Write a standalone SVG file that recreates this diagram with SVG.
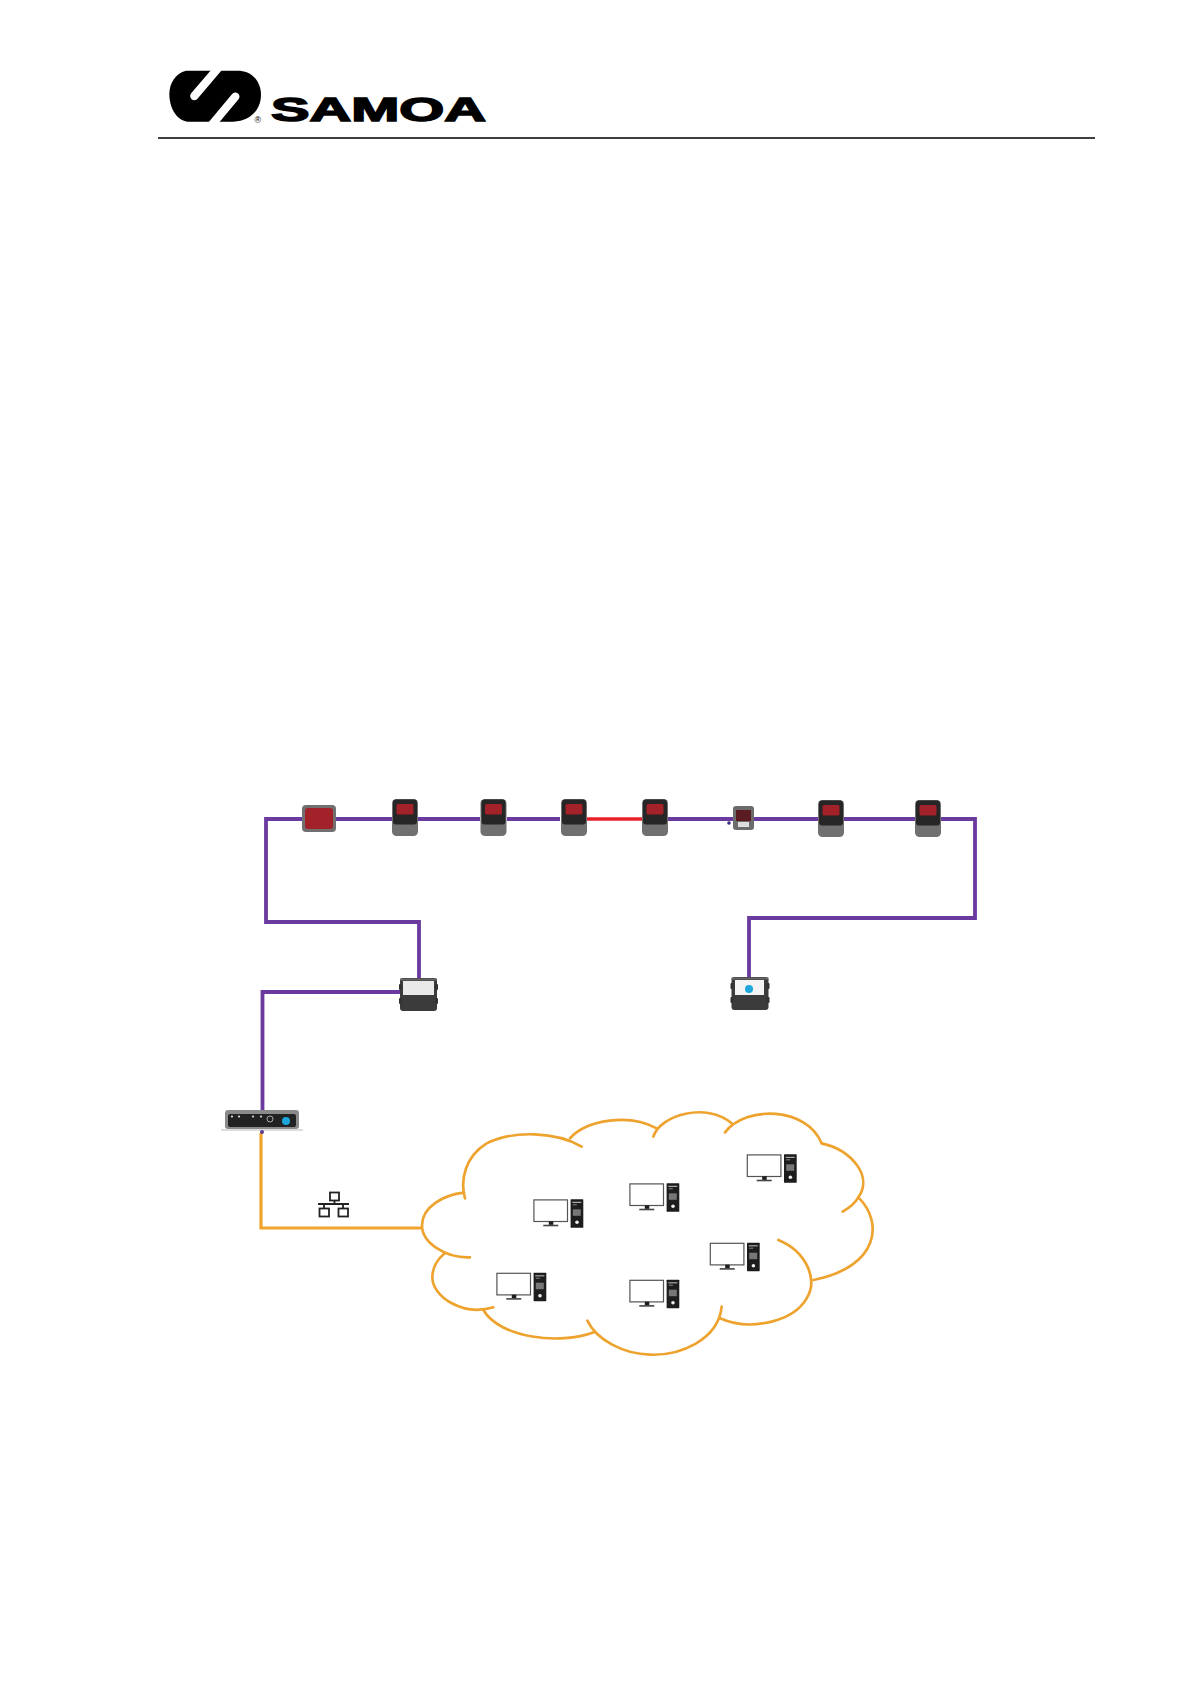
<svg xmlns="http://www.w3.org/2000/svg" width="1190" height="1684" viewBox="0 0 1190 1684">
<style>
.wire{fill:none;stroke-linejoin:miter;stroke-linecap:butt}
.purple{stroke:#6a3a9f;stroke-width:3.8}
.red{stroke:#e8202a;stroke-width:3.6}
.orange{stroke:#f0a42c;stroke-width:3.2}
.cloud{fill:none;stroke:#eda32e;stroke-width:8;stroke-linecap:round}
.net{fill:#fff;stroke:#222;stroke-width:1.8}
.mon{fill:#fff;stroke:#555;stroke-width:1.2}
.dk{fill:#1d1d1d}
.logo{font-family:"Liberation Sans",Arial,sans-serif;font-weight:700;fill:#000;stroke:#000;stroke-width:1.5}
</style>
<defs>
<filter id="soft" x="-20%" y="-20%" width="140%" height="140%"><feGaussianBlur stdDeviation="0.6"/></filter>
<g id="meter">
<rect x="0" y="0" width="26" height="37" rx="4.500" fill="#6f6f6f"/>
<rect x="1" y="0.5" width="24" height="25" rx="3" fill="#252525"/>
<rect x="4.500" y="5" width="17" height="10.500" rx="1.500" fill="#a3202c"/>
</g>
<g id="panel">
<rect x="0" y="0" width="37" height="33" rx="3" fill="#3a3a3a"/>
<rect x="0" y="0.5" width="37" height="2" fill="#666"/>
<rect x="-1" y="6" width="3" height="6" rx="1" fill="#333"/>
<rect x="35" y="6" width="3" height="6" rx="1" fill="#333"/>
<rect x="-1" y="20" width="3" height="6" rx="1" fill="#333"/>
<rect x="35" y="20" width="3" height="6" rx="1" fill="#333"/>
</g>
<g id="pc">
<rect class="mon" x="0.6" y="0.6" width="33.6" height="21.6"/>
<rect class="dk" x="15.500" y="22" width="4.500" height="3.600"/>
<rect x="10" y="25.400" width="15" height="1.600" fill="#444"/>
<rect class="dk" x="37.300" y="0" width="12.700" height="28.500" rx="0.6"/>
<rect x="39" y="2.500" width="9" height="1.200" fill="#aaa"/>
<rect x="39.500" y="5" width="4" height="1" fill="#888"/>
<rect x="39.500" y="10" width="8" height="6.500" fill="#777"/>
<circle cx="43.700" cy="23" r="1.800" fill="#eee"/>
</g>
</defs>

<g id="header">
<g id="logo-mark" transform="translate(150 50) scale(.33333)">
<path fill="#000" d="M108 62H270C312 66 333 100 333 134C333 178 300 215 250 215H112C78 210 58 172 58 132C58 100 76 70 108 62Z"/>
<path d="M203 56L133 138" fill="none" stroke="#fff" stroke-width="25" stroke-linecap="round"/>
<path d="M184 226L256 140" fill="none" stroke="#fff" stroke-width="25" stroke-linecap="round"/>
</g>
<text class="logo" x="271" y="120.500" font-size="33" textLength="215" lengthAdjust="spacingAndGlyphs">SAMOA</text>
<text x="254.500" y="123" font-family="Liberation Sans, Arial, sans-serif" font-size="9" fill="#000">®</text>
<line x1="158" y1="138" x2="1095" y2="138" stroke="#000" stroke-width="1.600"/>
</g>

<g id="connectors">
<path class="wire purple" d="M302 819H266V922H419V980"/>
<path class="wire purple" d="M336 819H392M418 819H480M507 819H560"/>
<path class="wire red" d="M587 819H643"/>
<path class="wire purple" d="M668 819H733M754 819H818M844 819H915M941 819H975V918H749V980"/>
<path class="wire purple" d="M400 992H262.500V1112"/>
<path class="wire orange" d="M261 1133V1228H421"/>
</g>

<g id="node-display" filter="url(#soft)">
<rect x="302" y="805" width="34" height="27" rx="4" fill="#6f6f6f"/>
<rect x="305" y="808" width="28" height="21" rx="3" fill="#a3202c"/>
</g>
<g id="node-meter-1" filter="url(#soft)"><use href="#meter" x="392" y="799"/></g>
<g id="node-meter-2" filter="url(#soft)"><use href="#meter" x="480.500" y="799"/></g>
<g id="node-meter-3" filter="url(#soft)"><use href="#meter" x="561" y="799"/></g>
<g id="node-meter-4" filter="url(#soft)"><use href="#meter" x="642" y="799"/></g>
<g id="node-small" filter="url(#soft)">
<rect x="733" y="806" width="21" height="24" rx="3" fill="#6c6c6c"/>
<rect x="736" y="810" width="15" height="11" fill="#5a1a24"/>
<rect x="738" y="822" width="11" height="5" fill="#ddd"/>
<circle cx="729" cy="823" r="1.800" fill="#3b2a80"/>
</g>
<g id="node-meter-5" filter="url(#soft)"><use href="#meter" x="818" y="800"/></g>
<g id="node-meter-6" filter="url(#soft)"><use href="#meter" x="915" y="800"/></g>

<g id="node-panel-left" filter="url(#soft)">
<use href="#panel" x="400" y="978"/>
<rect x="403" y="981" width="31" height="14" fill="#e9e9e9"/>
</g>
<g id="node-panel-right" filter="url(#soft)">
<use href="#panel" x="731.500" y="977"/>
<rect x="735" y="980" width="29" height="15" fill="#f4f4f4"/>
<circle cx="749" cy="989" r="4" fill="#1ba6dc"/>
</g>

<g id="node-gateway" filter="url(#soft)">
<rect x="225" y="1110" width="74" height="19" rx="3" fill="#8a8a8a"/>
<rect x="228" y="1114" width="68" height="13" rx="2" fill="#222"/>
<line x1="221" y1="1130" x2="303" y2="1130" stroke="#bbb" stroke-width="1"/>
<g fill="#ddd"><circle cx="232" cy="1116.500" r="1.100"/><circle cx="239" cy="1116.500" r="1.100"/><circle cx="253" cy="1116.500" r="1.100"/><circle cx="261" cy="1116.500" r="1.100"/></g>
<circle cx="270" cy="1119" r="3" fill="none" stroke="#aaa" stroke-width="1"/>
<circle cx="286" cy="1121" r="4" fill="#1ba6dc"/>
<circle cx="262" cy="1132" r="2" fill="#5a3a90"/>
</g>

<g id="node-network-icon">
<rect class="net" x="330" y="1192.500" width="9" height="8"/>
<path class="net" d="M334.500 1200.500V1204M318 1204H349M324 1204V1208M343 1204V1208"/>
<rect class="net" x="319.500" y="1208.500" width="9.500" height="8"/>
<rect class="net" x="338.500" y="1208.500" width="9.500" height="8"/>
</g>

<g id="node-cloud" transform="translate(410 1100) scale(.33333)">
<path class="cloud" d="M165 295C150 240 165 170 230 130C310 90 440 95 515 140"/>
<path class="cloud" d="M480 115C530 58 660 40 740 85"/>
<path class="cloud" d="M730 110C750 45 890 5 965 70"/>
<path class="cloud" d="M945 97C1010 15 1190 20 1235 130"/>
<path class="cloud" d="M1235 130C1325 150 1390 230 1345 292"/>
<path class="cloud" d="M1298 335C1315 325 1335 310 1345 292C1420 365 1410 500 1210 540"/>
<path class="cloud" d="M1105 420C1190 455 1225 540 1190 595C1150 665 1020 695 930 655"/>
<path class="cloud" d="M935 620C925 720 810 767 720 764C640 762 560 720 532 662"/>
<path class="cloud" d="M552 697C450 735 270 715 220 630"/>
<path class="cloud" d="M250 622C160 650 65 590 67 530C68 500 85 475 102 462"/>
<path class="cloud" d="M180 472C110 475 35 430 36 375C37 320 100 285 162 278"/>
</g>

<g id="node-pc-1"><use href="#pc" x="533.300" y="1199.300"/></g>
<g id="node-pc-2"><use href="#pc" x="629.300" y="1183.300"/></g>
<g id="node-pc-3"><use href="#pc" x="746.700" y="1154.300"/></g>
<g id="node-pc-4"><use href="#pc" x="709.700" y="1242.700"/></g>
<g id="node-pc-5"><use href="#pc" x="496.300" y="1272.700"/></g>
<g id="node-pc-6"><use href="#pc" x="629.300" y="1279.700"/></g>
</svg>
